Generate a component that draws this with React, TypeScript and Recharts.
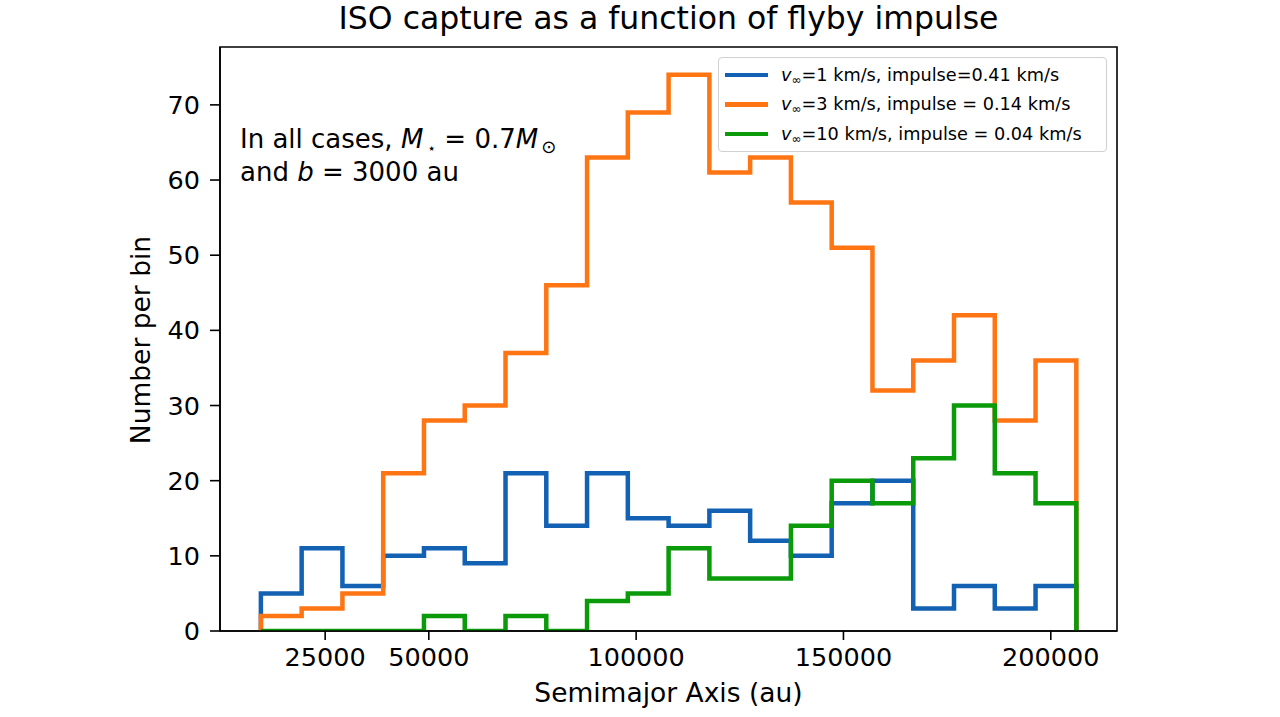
import React from 'react';
import { LineChart, Line, XAxis, YAxis, ReferenceArea } from 'recharts';

// histogram bins (au)
const BIN_START = 9500;
const BIN_WIDTH = 9833;
const BIN_COUNT = 20;

// counts per bin
const slowCounts = [5, 11, 6, 10, 11, 9, 21, 14, 21, 15, 14, 16, 12, 10, 17, 20, 3, 6, 3, 6];
const midCounts = [2, 3, 5, 21, 28, 30, 37, 46, 63, 69, 74, 61, 63, 57, 51, 32, 36, 42, 28, 36];
const fastCounts = [0, 0, 0, 0, 2, 0, 2, 0, 4, 5, 11, 7, 7, 14, 20, 17, 23, 30, 21, 17];

const xTicks = [25000, 50000, 100000, 150000, 200000];
const yTicks = [0, 10, 20, 30, 40, 50, 60, 70];

const X_DOMAIN: [number, number] = [-360, 215970];
const Y_DOMAIN: [number, number] = [0, 77.7];

const BLUE = '#1361b3';
const ORANGE = '#ff7514';
const GREEN = '#0a9a0a';

const FONT = '"DejaVu Sans", sans-serif';

const edges = Array.from({ length: BIN_COUNT + 1 }, (_, i) => BIN_START + i * BIN_WIDTH);

// step outline: up at first edge, across each bin, down at last edge
const rows = [
  { x: edges[0], slow: 0, mid: 0, fast: 0 },
  ...slowCounts.map((_, i) => ({ x: edges[i], slow: slowCounts[i], mid: midCounts[i], fast: fastCounts[i] })),
  { x: edges[BIN_COUNT], slow: 0, mid: 0, fast: 0 },
];

const legendItems = [
  { color: BLUE, speed: '1 km/s', rest: ', impulse=0.41 km/s' },
  { color: ORANGE, speed: '3 km/s', rest: ', impulse = 0.14 km/s' },
  { color: GREEN, speed: '10 km/s', rest: ', impulse = 0.04 km/s' },
];

const tickStyle = { fontSize: 25.5, fill: '#000', fontFamily: FONT };

export default function App() {
  return (
    <div style={{ position: 'absolute', left: 0, top: 0, width: 1280, height: 717, background: '#fff', fontFamily: FONT }}>
      <div style={{ position: 'absolute', left: 220, width: 897, top: 0, textAlign: 'center', fontSize: 31.5, color: '#000' }}>
        ISO capture as a function of flyby impulse
      </div>

      <LineChart width={1280} height={717} data={rows} margin={{ top: 47, right: 163, left: 140, bottom: 36 }}>
        <ReferenceArea x1={X_DOMAIN[0]} x2={X_DOMAIN[1]} y1={Y_DOMAIN[0]} y2={Y_DOMAIN[1]} fill="none" stroke="#000" strokeWidth={1.6} fillOpacity={0} />
        <XAxis
          type="number"
          dataKey="x"
          domain={X_DOMAIN}
          ticks={xTicks}
          allowDataOverflow
          height={50}
          tick={tickStyle}
          tickSize={9}
          tickMargin={8}
          axisLine={{ stroke: '#000', strokeWidth: 1.6 }}
          tickLine={{ stroke: '#000', strokeWidth: 1.6 }}
        />
        <YAxis
          type="number"
          domain={Y_DOMAIN}
          ticks={yTicks}
          allowDataOverflow
          width={80}
          tick={tickStyle}
          tickSize={10}
          tickMargin={10}
          axisLine={{ stroke: '#000', strokeWidth: 1.6 }}
          tickLine={{ stroke: '#000', strokeWidth: 1.6 }}
        />
        <Line dataKey="slow" type="stepAfter" stroke={BLUE} strokeWidth={4.5} dot={false} isAnimationActive={false} strokeLinejoin="miter" />
        <Line dataKey="mid" type="stepAfter" stroke={ORANGE} strokeWidth={4.5} dot={false} isAnimationActive={false} strokeLinejoin="miter" />
        <Line dataKey="fast" type="stepAfter" stroke={GREEN} strokeWidth={4.5} dot={false} isAnimationActive={false} strokeLinejoin="miter" />
      </LineChart>

      <div style={{ position: 'absolute', left: 240, top: 125, fontSize: 26, lineHeight: '29px', color: '#000', whiteSpace: 'nowrap' }}>
        <div>
          In all cases, <i>M</i>
          <span style={{ fontSize: 14, position: 'relative', top: 5, marginLeft: 4 }}>⋆</span>
          &nbsp;= 0.7<i>M</i>
          <span style={{ fontSize: 18, position: 'relative', top: 5, marginLeft: 3 }}>⊙</span>
        </div>
        <div>
          and <i>b</i> = 3000 au
        </div>
      </div>

      <div
        style={{
          position: 'absolute',
          left: 718,
          top: 57,
          width: 389,
          height: 95,
          boxSizing: 'border-box',
          border: '1.5px solid #d0d0d0',
          borderRadius: 4,
          background: 'rgba(255,255,255,0.8)',
          padding: '2px 0 0 6px',
        }}
      >
        {legendItems.map((it) => (
          <div key={it.speed} style={{ display: 'flex', alignItems: 'center', height: 29.5, fontSize: 17.7, color: '#000', whiteSpace: 'nowrap' }}>
            <span style={{ display: 'inline-block', width: 43, height: 4.5, background: it.color, marginRight: 13 }} />
            <span>
              <i>v</i>
              <span style={{ fontSize: 12, position: 'relative', top: 3 }}>∞</span>={it.speed}
              {it.rest}
            </span>
          </div>
        ))}
      </div>

      <div style={{ position: 'absolute', left: 128, top: 340, width: 0, height: 0 }}>
        <div style={{ transform: 'translate(-50%, -50%) rotate(-90deg)', whiteSpace: 'nowrap', fontSize: 26.5, color: '#000', position: 'absolute', left: 12, top: 0 }}>
          Number per bin
        </div>
      </div>

      <div style={{ position: 'absolute', left: 220, width: 897, top: 677, textAlign: 'center', fontSize: 26.5, color: '#000' }}>
        Semimajor Axis (au)
      </div>
    </div>
  );
}
